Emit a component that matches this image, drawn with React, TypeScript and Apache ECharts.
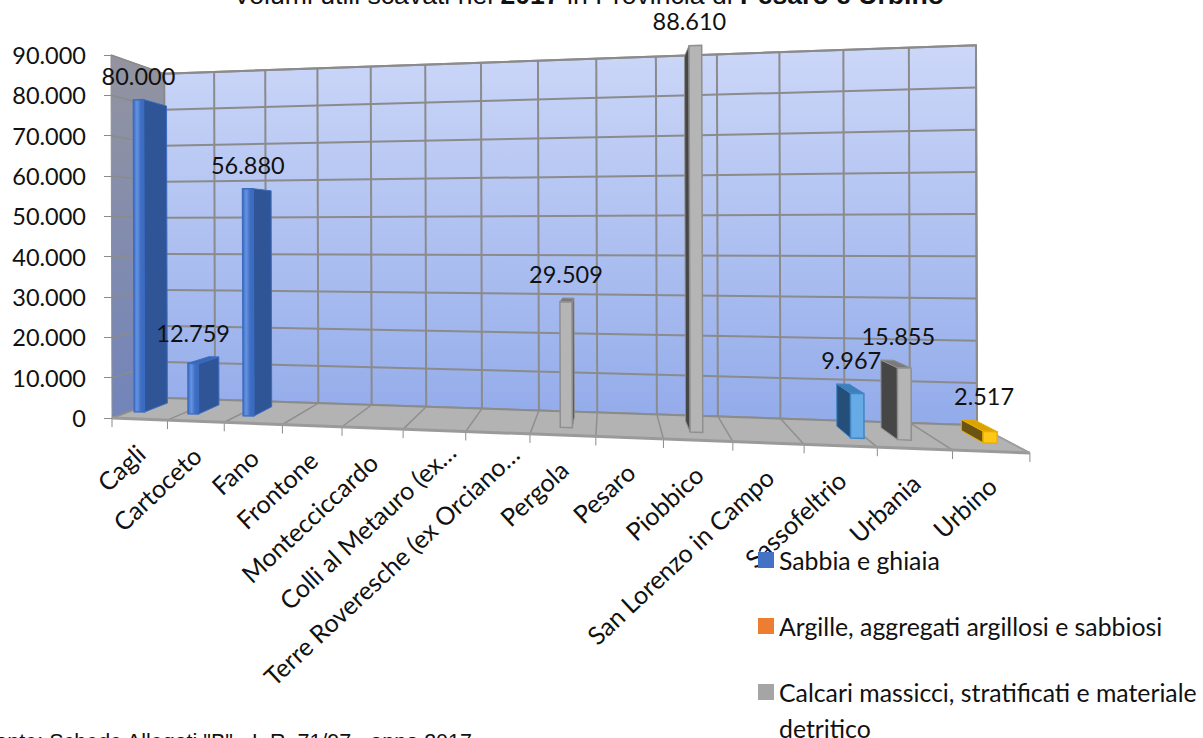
import React, { useEffect, useRef } from "react";
import * as echarts from "echarts";

const categories = ["Cagli","Cartoceto","Fano","Frontone","Montecciccardo","Colli al Metauro (ex…","Terre Roveresche (ex Orciano…","Pergola","Pesaro","Piobbico","San Lorenzo in Campo","Sassofeltrio","Urbania","Urbino"];
const sabbia = [80000,12759,56880,null,null,null,null,null,null,null,null,null,null,null];
const argille = [null,null,null,null,null,null,null,null,null,null,null,null,null,null];
const calcari = [null,null,null,null,null,null,null,29509,null,88610,null,null,15855,null];
const serie4 = [null,null,null,null,null,null,null,null,null,null,null,null,null,2517];
const serie5 = [null,null,null,null,null,null,null,null,null,null,null,9967,null,null];
const valueTicks = [0,10000,20000,30000,40000,50000,60000,70000,80000,90000];
const calcariLegend = "Calcari massicci, stratificati e materiale";

const FONT = "Lato";
const GRID = { left: 112, top: 55, width: 916, height: 363 };
// Projective camera: u along categories, v up the value axis, w from front to back wall
const CAM = { x0: 112, y0: 418, xu: 749, yu: -39.3, xv: -1, yv: -363, xw: 72.75, yw: 27.6, a: -0.164, c: 0.1197 };
const project = (u: number, v: number, w: number): number[] => {
  const d = 1 + CAM.a * u + CAM.c * w;
  return [(CAM.x0 + CAM.xu * u + CAM.xv * v + CAM.xw * w) / d, (CAM.y0 + CAM.yu * u + CAM.yv * v + CAM.yw * w) / d];
};
const fmt = (n: number) => String(n).replace(/\B(?=(\d{3})+$)/g, ".");
const vOf = (api: any, value: number) => (api.coord([0, 0])[1] - api.coord([0, value])[1]) / GRID.height;
const uOf = (api: any, i: number) => (api.coord([i, 0])[0] - api.size([1, 0])[0] / 2 - GRID.left) / GRID.width;
const poly = (points: number[][], fill: any, stroke?: string, lineWidth = 1) => ({
  type: "polygon", shape: { points }, style: { fill, stroke: stroke ?? "none", lineWidth },
});
const seg = (a: number[], b: number[], stroke: string, lineWidth: number) => ({
  type: "line", shape: { x1: a[0], y1: a[1], x2: b[0], y2: b[1] }, style: { stroke, lineWidth },
});
const LG = (c: any[], x2 = 0, y2 = 1) => new echarts.graphic.LinearGradient(0, 0, x2, y2, c.map((color, i) => ({ offset: i / (c.length - 1), color })));

function renderRoom(_: any, api: any) {
  const children: any[] = [];
  const band = 1 / categories.length;
  children.push(poly([project(0,0,0),project(0,0,1),project(0,1,1),project(0,1,0)], LG(["#93949f","#7284bb"]), "#8f8f8f", 1));
  children.push(poly([project(0,0,1),project(1,0,1),project(1,1,1),project(0,1,1)], LG(["#ccd7f8","#92abea"]), "#8a8a8a", 2));
  children.push(poly([project(0,0,0),project(1,0,0),project(1,0,1),project(0,0,1)], "#b3b3b3", "#a8a8a8", 1));
  valueTicks.forEach((t) => {
    const v = vOf(api, t);
    children.push(seg(project(0, v, 1), project(1, v, 1), "#8b8b8b", 2));
    children.push(seg(project(0, v, 0), project(0, v, 1), "#8b8b8b", 1.5));
  });
  for (let i = 0; i <= categories.length; i++) {
    const u = i * band;
    children.push(seg(project(u, 0, 1), project(u, 1, 1), "#8b8b8b", 2));
    children.push(seg(project(u, 0, 0), project(u, 0, 1), "#8f8f8f", 1.5));
    const f = project(u, 0, 0);
    children.push(seg(f, [f[0], f[1] + 9], "#8b8b8b", 1));
  }
  children.push(seg(project(0, 0, 0), project(1, 0, 0), "#9a9a9a", 3));
  children.push(seg(project(1, 0, 0), project(1, 0, 1), "#a0a0a0", 1.5));
  categories.forEach((name, i) => {
    const f = project(uOf(api, i) + band / 2, 0, 0);
    const cut = name.endsWith("…");
    children.push({
      type: "text", x: f[0] + (cut ? 17 : 1), y: f[1] + (cut ? 17 : 30), rotation: (43 * Math.PI) / 180,
      style: { text: name, font: `25px ${FONT}`, fill: "#111", textAlign: "right", textVerticalAlign: "middle" },
    });
  });
  return { type: "group", children };
}

const barRender = (slot: number, c: { front: any; side: string; top: string; edge: string }) => (_: any, api: any) => {
  const i = api.value(0);
  const val = api.value(1);
  if (val == null || isNaN(val)) return null;
  const band = 1 / categories.length;
  const u0 = uOf(api, i) + band * (0.095 + 0.17 * slot);
  const u1 = u0 + band * 0.19;
  const w0 = 0.3, w1 = 0.75;
  const v = vOf(api, val);
  const children: any[] = [];
  const rightVisible = project(u1, 0, w1)[0] > project(u1, 0, w0)[0];
  const us = rightVisible ? u1 : u0;
  children.push(poly([project(us,0,w0),project(us,0,w1),project(us,v,w1),project(us,v,w0)], c.side, c.edge, 1));
  if (project(u0, v, w1)[1] < project(u0, v, w0)[1]) {
    children.push(poly([project(u0,v,w0),project(u1,v,w0),project(u1,v,w1),project(u0,v,w1)], c.top, c.edge, 1));
  }
  children.push(poly([project(u0,0,w0),project(u1,0,w0),project(u1,v,w0),project(u0,v,w0)], c.front, c.edge, 1.5));
  const a = project(u0, v, w0), b = project(u1, v, w0), d = project(us, v, w1);
  const cx = (a[0] + b[0]) / 2 - (rightVisible ? 0 : 6);
  const cy = Math.min(a[1], b[1], d[1]);
  children.push({
    type: "text", x: cx, y: cy - 24,
    style: { text: fmt(val), font: `23.5px ${FONT}`, fill: "#111", textAlign: "center", textVerticalAlign: "middle" },
  });
  return { type: "group", children };
};

const rows = (values: (number | null)[]) => values.map((v, i) => [i, v]).filter((r) => r[1] != null);

export default function App() {
  const ref = useRef<HTMLDivElement>(null);
  useEffect(() => {
    const chart = echarts.init(ref.current!, null, { renderer: "svg" });
    const bar = (name: string, values: (number | null)[], slot: number, color: string, c: any) => ({
      type: "custom", name, coordinateSystem: "cartesian2d", data: rows(values), z: 5 + slot,
      itemStyle: { color }, renderItem: barRender(slot, c), encode: { x: 0, y: 1 }, clip: false, silent: true,
    });
    chart.setOption({
      animation: false,
      backgroundColor: "#fff",
      title: {
        left: 228, top: -24,
        text: "Volumi utili scavati nel {b|2017} in Provincia di {b|Pesaro e Urbino}",
        textStyle: { fontFamily: "Liberation Sans", fontSize: 26.6, fontWeight: "normal", color: "#111",
          rich: { b: { fontFamily: "Liberation Sans", fontSize: 26.6, fontWeight: "bold", color: "#111" } } },
      },
      grid: { ...GRID, containLabel: false },
      xAxis: { type: "category", data: categories, show: false },
      yAxis: {
        type: "value", min: 0, max: 90000, interval: 10000,
        axisLine: { show: false },
        axisTick: { show: true, length: 8, lineStyle: { color: "#8b8b8b", width: 1 } },
        splitLine: { show: false },
        axisLabel: { formatter: (v: number) => fmt(v), fontFamily: FONT, fontSize: 23.5, color: "#111", margin: 26 },
      },
      legend: {
        left: 753, top: 536.5, height: 240, orient: "vertical", itemWidth: 16, itemHeight: 16, itemGap: 29, icon: "rect", z: 20,
        data: ["Sabbia e ghiaia", "Argille, aggregati argillosi e sabbiosi", calcariLegend],
        textStyle: { fontFamily: FONT, fontSize: 24.8, color: "#111", lineHeight: 37 },
      },
      graphic: [
        {
          type: "text", x: 472, y: 731,
          style: { text: 'Fonte: Schede Allegati "B" - L.R. 71/97 - anno 2017', font: "21.5px 'Liberation Sans'", fill: "#111", textAlign: "right" },
        },
        {
          type: "text", x: 779, y: 716,
          style: { text: "detritico", font: `24.8px ${FONT}`, fill: "#111" },
        },
      ],
      series: [
        { type: "custom", name: "room", coordinateSystem: "cartesian2d", data: [[0, 0]], renderItem: renderRoom, z: 1, silent: true, clip: false },
        bar("Sabbia e ghiaia", sabbia, 0, "#4472c4", { front: LG(["#3f6fc6","#6593e0","#3f6fc6","#3a68b8"], 1, 0), side: "#2f5597", top: "#3a66b5", edge: "#3b6cc2" }),
        bar("Argille, aggregati argillosi e sabbiosi", argille, 1, "#ed7d31", { front: "#ed7d31", side: "#ae5a21", top: "#c56a2a", edge: "#ed7d31" }),
        bar(calcariLegend, calcari, 2, "#a5a5a5", { front: "#b5b5b5", side: "#464646", top: "#7b7b7b", edge: "#8f8f8f" }),
        bar("Serie 4", serie4, 3, "#ffc000", { front: "#ffc819", side: "#6b5312", top: "#d9a400", edge: "#e8ae00" }),
        bar("Serie 5", serie5, 4, "#5b9bd5", { front: "#66aae6", side: "#254f78", top: "#3f7fb8", edge: "#3f86c6" }),
      ],
    });
    return () => chart.dispose();
  }, []);
  return <div ref={ref} style={{ position: "fixed", left: 0, top: 0, width: 1203, height: 738 }} />;
}
